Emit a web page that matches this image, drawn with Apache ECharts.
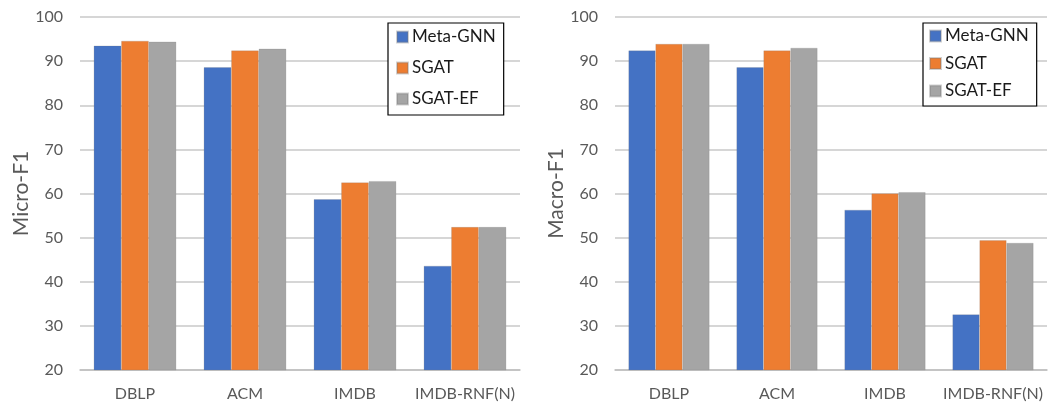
<!DOCTYPE html>
<html><head><meta charset="utf-8">
<script src="https://cdn.jsdelivr.net/npm/echarts@6/dist/echarts.min.js"></script>
<style>html,body{margin:0;padding:0;background:#fff}#c{width:1062px;height:405px}</style>
</head><body><div id="c"></div>
<script>
const categories = ['DBLP', 'ACM', 'IMDB', 'IMDB-RNF(N)'];
const seriesNames = ['Meta-GNN', 'SGAT', 'SGAT-EF'];
const colors = ['#4472C4', '#ED7D31', '#A5A5A5'];
const microMetaGNN = [93.5, 88.6, 58.7, 43.6];
const microSGAT = [94.6, 92.4, 62.5, 52.4];
const microSGATEF = [94.4, 92.8, 62.8, 52.4];
const macroMetaGNN = [92.4, 88.6, 56.3, 32.6];
const macroSGAT = [93.9, 92.4, 60.0, 49.4];
const macroSGATEF = [93.9, 93.0, 60.3, 48.8];
const yTicks = [20, 30, 40, 50, 60, 70, 80, 90, 100];
const yNames = ['Micro-F1', 'Macro-F1'];

const FONT = 'Lato, "Open Sans", sans-serif';
const chart = echarts.init(document.getElementById('c'));
const grids = [
  {left: 80, width: 440, top: 17, bottom: 35},
  {left: 615, width: 432, top: 17, bottom: 35}
];
function xAxis(i){
  return {type:'category', gridIndex:i, data:categories,
    axisLine:{lineStyle:{color:'#bfbfbf', width:1.5}}, axisTick:{show:false},
    axisLabel:{color:'#595959', fontSize:16, fontFamily:FONT, margin:16, interval:0}};
}
function yAxis(i){
  return {type:'value', gridIndex:i, min:yTicks[0], max:yTicks[yTicks.length-1], interval:10,
    name:yNames[i], nameLocation:'middle', nameGap:i===0?47:46,
    nameTextStyle:{color:'#595959', fontSize:21, fontFamily:FONT},
    axisLine:{show:false}, axisTick:{show:false},
    axisLabel:{color:'#595959', fontSize:16, fontFamily:FONT, margin:17},
    splitLine:{lineStyle:{color:'#c9c9c9', width:1.5}}};
}
const micro = [microMetaGNN, microSGAT, microSGATEF];
const macro = [macroMetaGNN, macroSGAT, macroSGATEF];
const series = [];
[micro, macro].forEach((set, g) => {
  set.forEach((vals, k) => {
    series.push({type:'bar', name:seriesNames[k], xAxisIndex:g, yAxisIndex:g, data:vals,
      barGap:'0%', barCategoryGap:'25%',
      itemStyle:{color:colors[k], borderColor:'rgba(120,120,120,0.35)', borderWidth:0.6}});
  });
});
function legend(left, top, gap, pad){
  return {orient:'vertical', left:left, top:top, data:seriesNames, icon:'rect',
    itemWidth:11, itemHeight:11, itemGap:gap, padding:pad,
    borderColor:'#000', borderWidth:1.2, backgroundColor:'#fff',
    textStyle:{color:'#1a1a1a', fontSize:17, fontFamily:FONT, lineHeight:20, padding:[0,0,0,-1]},
    selectedMode:false};
}
chart.setOption({
  animation:false,
  color:colors,
  grid:grids,
  xAxis:[xAxis(0), xAxis(1)],
  yAxis:[yAxis(0), yAxis(1)],
  legend:[legend(388, 23, 11, [4, 8, 6, 8]), legend(923, 23, 7.5, [3, 8, 5, 6])],
  series:series
});
</script></body></html>
